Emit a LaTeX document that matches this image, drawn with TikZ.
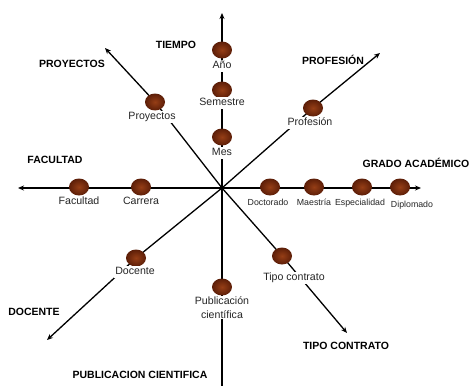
\documentclass[tikz,border=0pt]{standalone}
\usepackage{fontspec}
\setmainfont{Liberation Sans}
\usetikzlibrary{positioning,arrows.meta,shapes.geometric}
\definecolor{ballin}{RGB}{150,62,22}
\definecolor{ballout}{RGB}{92,30,8}
\tikzset{
  ballnode/.style={ellipse, minimum width=20pt, minimum height=17pt, inner sep=0pt, inner color=ballin, outer color=ballout},
  itemlabel/.style={fill=white, inner sep=1pt, text=black!85, font=\fontsize{10.6}{13}\selectfont, text height=7.8pt, text depth=2pt},
  twolabel/.style={fill=white, inner sep=1pt, text=black!85, font=\fontsize{10.6}{13.5}\selectfont, align=center},
  smalllabel/.style={fill=white, inner sep=1pt, text=black!85, font=\fontsize{8.8}{10}\selectfont, text height=6.5pt, text depth=1.7pt},
  catlabel/.style={inner sep=0pt, font=\fontsize{10.5}{12}\selectfont\bfseries, text height=7.6pt, text depth=0pt},
  axis/.style={line width=1.3pt, -{Stealth[length=6pt,width=5pt]}},
}
\begin{document}
\begin{tikzpicture}[x=1pt,y=-1pt]
\useasboundingbox (0,0) rectangle (470,385);
%Coordinates
\coordinate (o) at (222,188);
\coordinate (tiempoend) at (222,13);
\coordinate (pubend) at (222,392);
\coordinate (facend) at (18,188);
\coordinate (gradoend) at (421,188);
\coordinate (proyend) at (105,48);
\coordinate (profend) at (380,53);
\coordinate (docend) at (47,340);
\coordinate (tipoend) at (347,333);
\coordinate (p-proy) at (155,102);
\coordinate (p-prof) at (313,108);
\coordinate (p-doc) at (136,258);
\coordinate (p-tipo) at (282,256);

%Lines
\draw[axis] (o) -- (tiempoend);
\draw[line width=1.3pt] (o) -- (pubend);
\draw[axis] (o) -- (facend);
\draw[axis] (o) -- (gradoend);
\draw[axis] (o) -- (p-proy) -- (proyend);
\draw[axis] (o) -- (p-prof) -- (profend);
\draw[axis] (o) -- (p-doc) -- (docend);
\draw[axis] (o) -- (p-tipo) -- (tipoend);

%Balls
\node[ballnode] (anio) at (222,50) {};
\node[ballnode] (sem) at (222,90) {};
\node[ballnode] (mes) at (222,137) {};
\node[ballnode] (pub) at (222,287) {};
\node[ballnode] (fac) at (79,187) {};
\node[ballnode] (car) at (141,187) {};
\node[ballnode] (doct) at (270,187) {};
\node[ballnode] (maes) at (314,187) {};
\node[ballnode] (esp) at (362,187) {};
\node[ballnode] (dipl) at (400,187) {};
\node[ballnode] (proy) at (p-proy) {};
\node[ballnode] (prof) at (p-prof) {};
\node[ballnode] (doc) at (p-doc) {};
\node[ballnode] (tipo) at (p-tipo) {};

%Item labels
\node[itemlabel, below=1pt of anio] {Año};
\node[itemlabel, below=-2pt of sem] {Semestre};
\node[itemlabel, below=1pt of mes] {Mes};
\node[twolabel, below=0pt of pub] {Publicación\\científica};
\node[itemlabel, below=0pt of fac] {Facultad};
\node[itemlabel, below=0pt of car] {Carrera};
\node[smalllabel, below=2pt of doct, xshift=-2pt] {Doctorado};
\node[smalllabel, below=2pt of maes] {Maestría};
\node[smalllabel, below=2pt of esp, xshift=-2pt] {Especialidad};
\node[smalllabel, below=4pt of dipl, xshift=12pt] {Diplomado};
\node[itemlabel, below=0pt of proy, xshift=-3pt] {Proyectos};
\node[itemlabel, below=0pt of prof, xshift=-3pt] {Profesión};
\node[itemlabel, below=-1pt of doc, xshift=-1pt] {Docente};
\node[itemlabel, below=7pt of tipo, xshift=12pt] {Tipo contrato};

%Category labels
\node[catlabel] (tiempo) at (176,45) {TIEMPO};
\node[catlabel] (profesion) at (333,61) {PROFESIÓN};
\node[catlabel] (proyectos) at (72,64) {PROYECTOS};
\node[catlabel] (facultad) at (55,160) {FACULTAD};
\node[catlabel] (grado) at (416,164) {GRADO ACADÉMICO};
\node[catlabel] (docente) at (34,312) {DOCENTE};
\node[catlabel] (contrato) at (346,346) {TIPO CONTRATO};
\node[catlabel] (publicacion) at (140,375) {PUBLICACION CIENTIFICA};
\end{tikzpicture}
\end{document}
